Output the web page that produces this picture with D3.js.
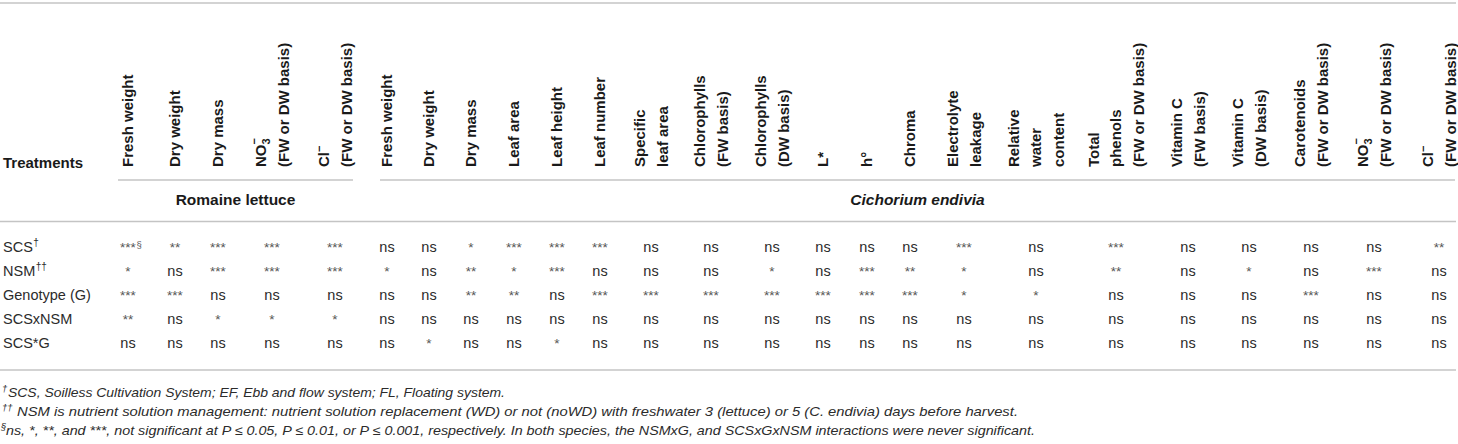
<!DOCTYPE html>
<html>
<head>
<meta charset="utf-8">
<script src="https://cdn.jsdelivr.net/npm/d3@7"></script>
<style>
  html, body { margin: 0; padding: 0; background: #fff; }
  svg { display: block; }
</style>
</head>
<body>
<div id="chart"></div>
<script>
// ---------------- DATA ----------------
const species = ["Romaine lettuce", "Cichorium endivia"];
const speciesColumnCounts = [5, 20];

const headers = [
  ["Fresh weight"], ["Dry weight"], ["Dry mass"], ["NO3-", "(FW or DW basis)"], ["Cl-", "(FW or DW basis)"],
  ["Fresh weight"], ["Dry weight"], ["Dry mass"], ["Leaf area"], ["Leaf height"], ["Leaf number"],
  ["Specific", "leaf area"], ["Chlorophylls", "(FW basis)"], ["Chlorophylls", "(DW basis)"],
  ["L*"], ["h°"], ["Chroma"], ["Electrolyte", "leakage"], ["Relative", "water", "content"],
  ["Total", "phenols", "(FW or DW basis)"], ["Vitamin C", "(FW basis)"], ["Vitamin C", "(DW basis)"],
  ["Carotenoids", "(FW or DW basis)"], ["NO3-", "(FW or DW basis)"], ["Cl-", "(FW or DW basis)"]
];

const treatments = ["SCS", "NSM", "Genotype (G)", "SCSxNSM", "SCS*G"];
const treatmentMarks = ["†", "††", "", "", ""];

const sigSCS      = ["***","**","***","***","***", "ns","ns","*","***","***","***","ns","ns","ns","ns","ns","ns","***","ns","***","ns","ns","ns","ns","**"];
const sigNSM      = ["*","ns","***","***","***", "*","ns","**","*","***","ns","ns","ns","*","ns","***","**","*","ns","**","ns","*","ns","***","ns"];
const sigGenotype = ["***","***","ns","ns","ns", "ns","ns","**","**","ns","***","***","***","***","***","***","***","*","*","ns","ns","ns","***","ns","ns"];
const sigSCSxNSM  = ["**","ns","*","*","*", "ns","ns","ns","ns","ns","ns","ns","ns","ns","ns","ns","ns","ns","ns","ns","ns","ns","ns","ns","ns"];
const sigSCSG     = ["ns","ns","ns","ns","ns", "ns","*","ns","ns","*","ns","ns","ns","ns","ns","ns","ns","ns","ns","ns","ns","ns","ns","ns","ns"];
const significance = [sigSCS, sigNSM, sigGenotype, sigSCSxNSM, sigSCSG];

const cellNotes = [{ row: 0, col: 0, mark: "§" }];

const footnoteMarks = ["†", "††", "§"];
const footnoteTexts = [
  "SCS, Soilless Cultivation System; EF, Ebb and flow system; FL, Floating system.",
  "NSM is nutrient solution management: nutrient solution replacement (WD) or not (noWD) with freshwater 3 (lettuce) or 5 (C. endivia) days before harvest.",
  "ns, *, **, and ***, not significant at P ≤ 0.05, P ≤ 0.01, or P ≤ 0.001, respectively. In both species, the NSMxG, and SCSxGxNSM interactions were never significant."
];

// ---------------- LAYOUT ----------------
const W = 1458, H = 444;
const colCenters = [128, 175, 218, 272, 335,
  387, 429, 471, 514, 557, 600, 651, 711, 772, 823, 867, 910, 964, 1036, 1116, 1188, 1249, 1311, 1374, 1439];
const groupSpans = [[118, 353], [380, 1455]];
const groupItalic = [false, true];
const footStart = [[2, 8, 505], [2, 17, 1018], [1, 6, 1035]];
const footBaselines = [397, 416, 435];

const FONT = "'Liberation Sans', Arial, Helvetica, sans-serif";
const lineColor = "#c4c4c4";
const textColor = "#2b2b2b";

const x = d3.scaleOrdinal().domain(d3.range(headers.length)).range(colCenters);
const y = d3.scalePoint().domain(treatments).range([252, 348]);

const svg = d3.select("#chart").append("svg")
  .attr("width", W).attr("height", H)
  .style("font-family", FONT);

svg.append("rect").attr("width", W).attr("height", H).attr("fill", "#fff");

// rules
const hline = (x1, x2, yy) => svg.append("line")
  .attr("x1", x1).attr("x2", x2).attr("y1", yy).attr("y2", yy)
  .attr("stroke", lineColor).attr("stroke-width", 1.6);
hline(0, 1456, 3);
hline(0, 1456, 221.5);
hline(0, 1456, 370);
groupSpans.forEach(s => hline(s[0], s[1], 180));

// "Treatments"
svg.append("text").attr("x", 3).attr("y", 168)
  .attr("font-size", 15).attr("font-weight", "bold").attr("fill", "#1a1a1a")
  .text("Treatments");

// species labels
species.forEach((sp, i) => {
  svg.append("text")
    .attr("x", (groupSpans[i][0] + groupSpans[i][1]) / 2).attr("y", 205)
    .attr("text-anchor", "middle")
    .attr("font-size", 15.5).attr("font-weight", "bold")
    .attr("font-style", groupItalic[i] ? "italic" : "normal")
    .attr("fill", "#1a1a1a")
    .text(sp);
});

// rotated headers
const LS = 22.5, HFS = 15;
headers.forEach((lines, ci) => {
  const n = lines.length;
  lines.forEach((ln, li) => {
    const cx = x(ci) + (li - (n - 1) / 2) * LS + 5.4;
    const t = svg.append("text")
      .attr("transform", `translate(${cx},167) rotate(-90)`)
      .attr("font-size", HFS).attr("font-weight", "bold").attr("fill", "#1a1a1a");
    if (ln === "NO3-") {
      t.append("tspan").text("NO");
      t.append("tspan").attr("font-size", 11).attr("dy", 4).text("3");
      t.append("tspan").attr("font-size", 11).attr("dx", -6.2).attr("dy", -12).text("−");
    } else if (ln === "Cl-") {
      t.append("tspan").text("Cl");
      t.append("tspan").attr("font-size", 11).attr("dy", -6).text("−");
    } else {
      t.text(ln);
    }
  });
});

// row labels
treatments.forEach((tr, ri) => {
  const t = svg.append("text").attr("x", 3).attr("y", y(tr))
    .attr("font-size", 14.5).attr("fill", textColor);
  t.append("tspan").text(tr);
  if (treatmentMarks[ri]) {
    t.append("tspan").attr("font-size", 10).attr("dy", -6).attr("dx", 0.5).text(treatmentMarks[ri]);
  }
});

// cells
significance.forEach((rowVals, ri) => {
  const g = svg.append("g");
  const cells = g.selectAll("text").data(rowVals).join("text")
    .attr("x", (d, ci) => x(ci))
    .attr("y", y(treatments[ri]))
    .attr("text-anchor", "middle")
    .attr("font-size", d => d === "ns" ? 14.5 : 13.5)
    .attr("fill", d => d === "ns" ? textColor : "#555")
    .text(d => d);
  cellNotes.filter(c => c.row === ri).forEach(c => {
    const node = cells.nodes()[c.col];
    const w = node.getComputedTextLength();
    g.append("text")
      .attr("x", x(c.col) + w / 2 + 0.5).attr("y", y(treatments[ri]) - 4)
      .attr("font-size", 9.5).attr("fill", "#555")
      .text(c.mark);
  });
});

// footnotes
footnoteTexts.forEach((ft, i) => {
  const [mx, tx, ex] = footStart[i];
  svg.append("text").attr("x", mx).attr("y", footBaselines[i] - 5)
    .attr("font-size", 9.5).attr("font-style", "italic").attr("fill", textColor)
    .text(footnoteMarks[i]);
  svg.append("text").attr("x", tx).attr("y", footBaselines[i])
    .attr("font-size", 13).attr("font-style", "italic").attr("fill", textColor)
    .attr("textLength", ex - tx).attr("lengthAdjust", "spacingAndGlyphs")
    .text(ft);
});
</script>
</body>
</html>
